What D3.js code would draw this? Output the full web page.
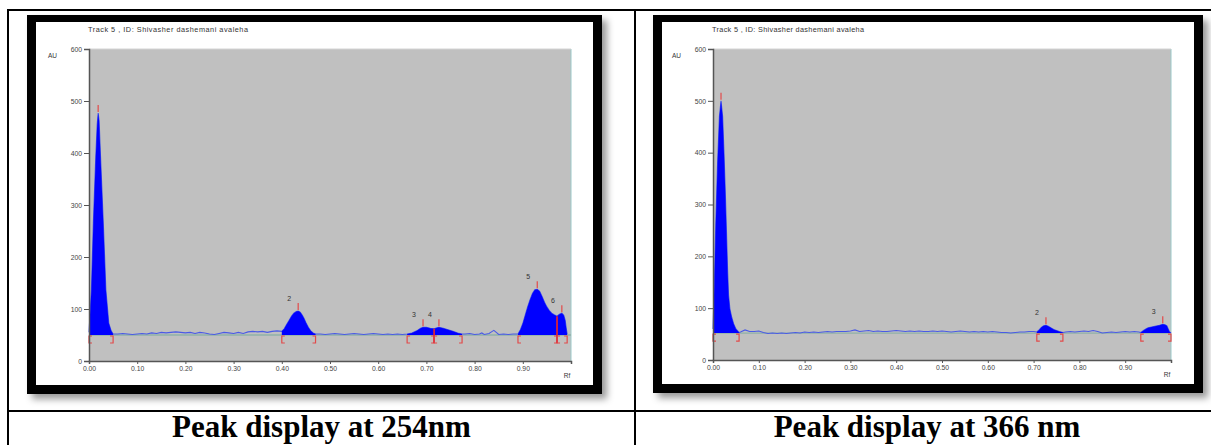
<!DOCTYPE html>
<html>
<head>
<meta charset="utf-8">
<script src="https://cdn.jsdelivr.net/npm/d3@7"></script>
<style>
  body { margin: 0; background: #fff; }
  svg { display: block; font-family: "Liberation Sans", Arial, sans-serif; }
</style>
</head>
<body>
<svg width="1211" height="445"></svg>
<script>
// values
const rfTicks = [0, 0.1, 0.2, 0.3, 0.4, 0.5, 0.6, 0.7, 0.8, 0.9];
const auTicks = [0, 100, 200, 300, 400, 500, 600];
const titleText = "Track  5 , ID: Shivasher dashemani avaleha";
const captions = ["Peak display at 254nm", "Peak display at 366 nm"];

const baseline254 = 50;
const trace254 = [
  [0.000, 55], [0.005, 137], [0.009, 265], [0.014, 392], [0.017, 455], [0.019, 477], [0.021, 462],
  [0.024, 392], [0.0297, 265], [0.035, 137], [0.041, 73], [0.046, 58], [0.050, 52],
  [0.06, 52], [0.07, 53], [0.08, 52], [0.09, 51], [0.10, 52], [0.11, 53], [0.12, 52], [0.13, 54],
  [0.14, 53], [0.15, 55], [0.16, 54], [0.17, 55], [0.18, 56], [0.19, 55], [0.20, 54], [0.21, 55],
  [0.22, 53], [0.23, 55], [0.24, 54], [0.25, 52], [0.26, 51], [0.27, 53], [0.28, 55], [0.29, 54],
  [0.30, 53], [0.31, 55], [0.32, 53], [0.33, 56], [0.34, 57], [0.35, 56], [0.36, 57], [0.37, 55],
  [0.38, 57], [0.39, 58], [0.400, 57],
  [0.405, 62], [0.410, 70], [0.415, 78], [0.420, 86], [0.425, 92], [0.430, 95], [0.434, 96],
  [0.438, 94], [0.442, 89], [0.446, 82], [0.450, 74], [0.455, 65], [0.460, 58], [0.465, 54], [0.470, 52],
  [0.48, 52], [0.49, 51], [0.50, 52], [0.51, 53], [0.52, 52], [0.53, 51], [0.54, 52], [0.55, 53],
  [0.56, 52], [0.57, 51], [0.58, 52], [0.59, 53], [0.60, 52], [0.61, 51], [0.62, 52], [0.63, 51],
  [0.64, 52], [0.65, 51], [0.660, 52],
  [0.670, 54], [0.680, 58], [0.688, 63], [0.693, 65], [0.700, 65], [0.708, 63], [0.716, 62],
  [0.722, 64], [0.726, 65], [0.735, 63], [0.745, 60], [0.755, 57], [0.765, 54], [0.774, 52],
  [0.78, 52], [0.79, 53], [0.80, 51], [0.81, 52], [0.815, 54], [0.82, 51], [0.83, 53], [0.835, 56],
  [0.84, 59], [0.845, 55], [0.85, 51], [0.86, 52], [0.87, 51], [0.88, 52], [0.890, 52],
  [0.895, 60], [0.900, 72], [0.905, 88], [0.910, 104], [0.915, 118], [0.920, 130], [0.925, 137],
  [0.930, 138], [0.935, 134], [0.940, 124], [0.945, 113], [0.950, 104], [0.955, 97], [0.960, 92],
  [0.965, 89], [0.971, 86], [0.976, 90], [0.981, 92], [0.985, 88], [0.988, 78], [0.990, 64], [0.992, 52]
];
const peaks254 = [
  { label: "", start: 0.000, end: 0.050 },
  { label: "2", start: 0.400, end: 0.470 },
  { label: "3", start: 0.660, end: 0.716 },
  { label: "4", start: 0.716, end: 0.774 },
  { label: "5", start: 0.890, end: 0.971 },
  { label: "6", start: 0.971, end: 0.992 }
];

const baseline366 = 52;
const trace366 = [
  [0.000, 60], [0.003, 150], [0.006, 260], [0.010, 380], [0.014, 470], [0.0175, 500], [0.021, 470],
  [0.024, 400], [0.027, 320], [0.030, 230], [0.032, 170], [0.034, 125], [0.037, 98], [0.041, 82],
  [0.045, 70], [0.050, 60], [0.057, 53],
  [0.06, 54], [0.07, 58], [0.08, 55], [0.09, 55], [0.10, 56], [0.11, 53], [0.12, 51], [0.13, 52],
  [0.14, 51], [0.15, 52], [0.16, 51], [0.17, 52], [0.18, 53], [0.19, 52], [0.20, 54], [0.21, 53],
  [0.22, 54], [0.23, 53], [0.24, 54], [0.25, 55], [0.26, 54], [0.27, 55], [0.28, 55], [0.29, 55],
  [0.30, 56], [0.31, 58], [0.32, 55], [0.33, 56], [0.34, 57], [0.35, 55], [0.36, 56], [0.37, 55],
  [0.38, 55], [0.39, 56], [0.40, 57], [0.41, 56], [0.42, 55], [0.43, 56], [0.44, 55], [0.45, 56],
  [0.46, 55], [0.47, 55], [0.48, 56], [0.49, 55], [0.50, 56], [0.51, 55], [0.52, 54], [0.53, 55],
  [0.54, 56], [0.55, 55], [0.56, 54], [0.57, 55], [0.58, 54], [0.59, 55], [0.60, 54], [0.61, 55],
  [0.62, 54], [0.63, 53], [0.64, 53], [0.65, 52], [0.66, 53], [0.67, 54], [0.68, 54], [0.69, 55],
  [0.70, 55], [0.707, 54],
  [0.712, 58], [0.717, 63], [0.722, 66], [0.727, 67], [0.732, 65], [0.738, 62], [0.744, 59],
  [0.750, 57], [0.756, 55], [0.764, 53],
  [0.77, 54], [0.78, 55], [0.79, 54], [0.80, 55], [0.81, 56], [0.82, 55], [0.83, 57], [0.84, 55],
  [0.85, 52], [0.86, 53], [0.87, 54], [0.88, 53], [0.89, 54], [0.90, 55], [0.91, 54], [0.92, 55],
  [0.93, 54], [0.934, 53],
  [0.940, 57], [0.945, 60], [0.950, 62], [0.955, 63], [0.960, 64], [0.965, 65], [0.970, 66],
  [0.975, 67], [0.982, 69], [0.987, 68], [0.991, 66], [0.994, 60], [0.997, 54], [1.000, 52]
];
const peaks366 = [
  { label: "", start: 0.000, end: 0.057 },
  { label: "2", start: 0.707, end: 0.764 },
  { label: "3", start: 0.934, end: 1.000 }
];

// page layout
const panels = [
  { trace: trace254, peaks: peaks254, base: baseline254, caption: captions[0], titleWidth: 160,
    frame: { x: 27, y: 15, w: 575, h: 379 }, plot: { l: 89, t: 49, r: 571, b: 361 }, cell: [8, 635] },
  { trace: trace366, peaks: peaks366, base: baseline366, caption: captions[1], titleWidth: 152,
    frame: { x: 653, y: 15, w: 550, h: 378 }, plot: { l: 713, t: 49, r: 1171, b: 360 }, cell: [635, 1219] }
];

const svg = d3.select("svg");

const shadow = svg.append("defs").append("filter")
  .attr("id", "shadow").attr("x", "-5%").attr("y", "-5%").attr("width", "115%").attr("height", "115%");
shadow.append("feDropShadow")
  .attr("dx", 5).attr("dy", 5).attr("stdDeviation", 3.5)
  .attr("flood-color", "#000").attr("flood-opacity", 0.4);

// table grid
const grid = svg.append("g").attr("stroke", "#000").attr("stroke-width", 2);
grid.append("line").attr("x1", 8).attr("x2", 1219).attr("y1", 10).attr("y2", 10);
grid.append("line").attr("x1", 8).attr("x2", 1219).attr("y1", 411).attr("y2", 411);
grid.append("line").attr("x1", 8).attr("x2", 8).attr("y1", 9).attr("y2", 445);
grid.append("line").attr("x1", 635).attr("x2", 635).attr("y1", 9).attr("y2", 445);

panels.forEach(p => {
  const g = svg.append("g");
  const f = p.frame;

  g.append("rect").attr("x", f.x).attr("y", f.y).attr("width", f.w).attr("height", f.h)
    .attr("fill", "#000").attr("filter", "url(#shadow)");
  g.append("rect").attr("x", f.x + 9).attr("y", f.y + 7).attr("width", f.w - 18).attr("height", f.h - 16)
    .attr("fill", "#fff");

  const x = d3.scaleLinear().domain([0, 1]).range([p.plot.l, p.plot.r]);
  const y = d3.scaleLinear().domain([0, 600]).range([p.plot.b, p.plot.t]);
  const yb = y(p.base);

  g.append("rect").attr("x", x(0)).attr("y", y(600)).attr("width", x(1) - x(0)).attr("height", y(0) - y(600))
    .attr("fill", "#c0c0c0");
  g.append("line").attr("x1", x(1)).attr("x2", x(1)).attr("y1", y(600)).attr("y2", y(0))
    .attr("stroke", "#9ccaca").attr("stroke-width", 1);
  g.append("line").attr("x1", x(0)).attr("x2", x(1)).attr("y1", y(600)).attr("y2", y(600))
    .attr("stroke", "#d4d4d4").attr("stroke-width", 1);

  // baseline
  g.append("line").attr("x1", x(0)).attr("x2", x(1)).attr("y1", yb).attr("y2", yb)
    .attr("stroke", "#8fb2a8").attr("stroke-width", 1.3);

  // raw trace
  g.append("path").datum(p.trace)
    .attr("fill", "none").attr("stroke", "#4a5ae6").attr("stroke-width", 1.1)
    .attr("d", d3.line().x(d => x(d[0])).y(d => y(d[1])));

  // integrated peaks
  const area = d3.area().x(d => x(d[0])).y0(yb).y1(d => y(d[1]));
  const marks = g.append("g").attr("stroke", "#e24a4a").attr("fill", "none").attr("stroke-width", 1.2);
  p.peaks.forEach(pk => {
    const pts = p.trace.filter(d => d[0] >= pk.start - 1e-9 && d[0] <= pk.end + 1e-9);
    g.insert("path", "g").datum(pts).attr("fill", "#0000ff").attr("d", area);
    const top = pts.reduce((a, b) => (b[1] > a[1] ? b : a));
    marks.append("line")
      .attr("x1", x(top[0])).attr("x2", x(top[0]))
      .attr("y1", y(top[1]) - 1).attr("y2", y(top[1]) - 8);
    const xs = x(pk.start), xe = x(pk.end);
    marks.append("path").attr("d", `M${xs + 3},${yb + 1}H${xs}V${yb + 8}H${xs + 3}`);
    marks.append("path").attr("d", `M${xe - 3},${yb + 1}H${xe}V${yb + 8}H${xe - 3}`);
    const last = pts[pts.length - 1];
    if (last[1] - p.base > 8) {
      marks.append("line").attr("x1", xe).attr("x2", xe)
        .attr("y1", y(last[1])).attr("y2", yb + 8)
        .attr("stroke", "#d8203a").attr("stroke-width", 1.8);
    }
    if (pk.label) {
      g.append("text").attr("x", x(top[0]) - 9).attr("y", y(top[1]) - 10)
        .attr("text-anchor", "middle").attr("font-size", 7).attr("fill", "#333")
        .text(pk.label);
    }
  });

  // axes
  const yAxis = g.append("g").attr("transform", `translate(${x(0)},0)`)
    .call(d3.axisLeft(y).tickValues(auTicks).tickSize(5).tickPadding(2));
  const xAxis = g.append("g").attr("transform", `translate(0,${y(0)})`)
    .call(d3.axisBottom(x).tickValues(rfTicks).tickFormat(d3.format(".2f")).tickSize(3).tickPadding(2));
  [yAxis, xAxis].forEach(a => {
    a.select(".domain").attr("stroke", "#555").attr("stroke-width", 1.5);
    a.selectAll(".tick line").attr("stroke", "#555");
    a.selectAll(".tick text").attr("fill", "#444").attr("font-size", 6.8)
      .attr("font-family", "Liberation Sans, Arial, sans-serif");
  });

  g.append("text").attr("x", x(0) - 1).attr("y", y(600) - 17)
    .attr("font-size", 7.3).attr("fill", "#333")
    .attr("textLength", p.titleWidth).attr("lengthAdjust", "spacing")
    .text(titleText);
  g.append("text").attr("x", x(0) - 41).attr("y", y(600) + 9)
    .attr("font-size", 6.5).attr("fill", "#333").text("AU");
  g.append("text").attr("x", x(1) - 4).attr("y", y(0) + 17).attr("text-anchor", "middle")
    .attr("font-size", 6.5).attr("fill", "#333").text("Rf");

  svg.append("text")
    .attr("x", (p.cell[0] + p.cell[1]) / 2).attr("y", 437)
    .attr("text-anchor", "middle")
    .attr("font-family", "Liberation Serif, Times New Roman, serif")
    .attr("font-weight", "bold").attr("font-size", 31).attr("fill", "#000")
    .text(p.caption);
});
</script>
</body>
</html>
